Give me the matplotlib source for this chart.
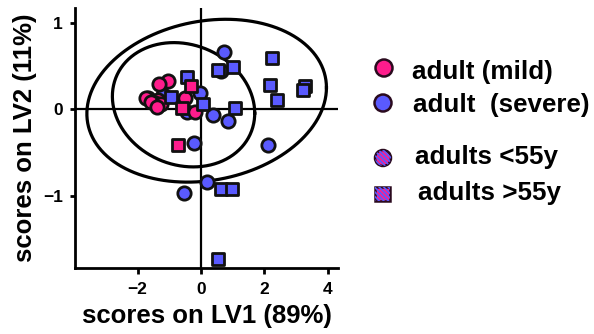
import numpy as np
import matplotlib
matplotlib.use("Agg")
import matplotlib.pyplot as plt
from matplotlib.patches import Circle, Rectangle

plt.rcParams["font.family"] = ["Liberation Sans", "DejaVu Sans"]
plt.rcParams["font.weight"] = "bold"

PINK = "#ff1c8c"
BLUE = "#5a5aff"
EDGE = "#111111"
LEG_EDGE = "#2a0a1e"

# ---- PLS-DA scores (LV1, LV2) ----
mild_young_x = [-1.05, -1.32, -1.35, -1.66, -1.45, -1.75, -1.58, -1.25, -0.50, -0.19, -1.40]
mild_young_y = [0.33, 0.29, 0.11, 0.13, 0.07, 0.13, 0.09, 0.06, 0.13, -0.03, 0.03]

mild_old_x = [-0.32, -0.59, -0.74]
mild_old_y = [0.27, 0.01, -0.41]

severe_young_x = [0.73, 0.62, -0.03, 0.39, 0.84, -0.21, 2.13, 0.18, -0.54, -0.45, -1.19]
severe_young_y = [0.67, 0.44, 0.19, -0.07, -0.13, -0.39, -0.41, -0.84, -0.97, -0.03, 0.17]

severe_old_x = [2.23, 2.18, 2.41, 3.28, 3.23, 0.55, 1.02, 1.07, 0.05, -0.45, -0.95, 0.62, 0.99, 0.53]
severe_old_y = [0.59, 0.28, 0.11, 0.27, 0.22, 0.46, 0.49, 0.02, 0.06, 0.38, 0.14, -0.92, -0.92, -1.73]

# Confidence ellipses: centre and shape factor (x = a cos t, y = c cos t + d sin t)
outer_centre = (0.18, 0.10)
outer_shape = (3.785, 0.151, 0.932)
inner_centre = (-0.55, 0.053)
inner_shape = (2.249, -0.098, 0.714)

x_ticks = [-2, 0, 2, 4]
y_ticks = [-1, 0, 1]

W, H = 594, 334
fig = plt.figure(figsize=(W / 100, H / 100), dpi=100)
ax = fig.add_axes([75 / W, 1 - 268 / H, (338 - 75) / W, (268 - 8) / H])
ax.set_xlim(-3.98, 4.33)
ax.set_ylim(-1.84, 1.175)

ax.axhline(0, color="black", lw=1.6, zorder=1)
ax.axvline(0, color="black", lw=1.6, zorder=1)

t = np.linspace(0, 2 * np.pi, 400)
for (cx, cy), (a, c, d) in [(outer_centre, outer_shape), (inner_centre, inner_shape)]:
    ax.plot(cx + a * np.cos(t), cy + c * np.cos(t) + d * np.sin(t), color="black", lw=2.3, zorder=2)

ms_c, ms_s, ew = 92, 70, 2.0
ax.scatter(severe_young_x, severe_young_y, s=ms_c, marker="o", c=BLUE, edgecolors=EDGE, linewidths=ew, zorder=3)
ax.scatter(mild_young_x, mild_young_y, s=ms_c, marker="o", c=PINK, edgecolors=EDGE, linewidths=ew, zorder=4)
ax.scatter(severe_old_x, severe_old_y, s=ms_s, marker="s", c=BLUE, edgecolors=EDGE, linewidths=ew, zorder=5)
ax.scatter(mild_old_x, mild_old_y, s=ms_s, marker="s", c=PINK, edgecolors=EDGE, linewidths=ew, zorder=6)

for side in ("top", "right"):
    ax.spines[side].set_visible(False)
for side in ("left", "bottom"):
    ax.spines[side].set_linewidth(2.0)
ax.set_xticks(x_ticks)
ax.set_xticklabels([f"{v}".replace("-", "\u2212") for v in x_ticks])
ax.set_yticks(y_ticks)
ax.set_yticklabels([f"{v}".replace("-", "\u2212") for v in y_ticks])
ax.tick_params(width=2, labelsize=12.5)
ax.tick_params(axis="x", length=4.5, pad=5.5)
ax.tick_params(axis="y", length=3.8, pad=5)
for lbl in ax.get_xticklabels() + ax.get_yticklabels():
    lbl.set_fontweight("bold")

ax.set_xlabel("scores on LV1 (89%)", fontsize=18.5, fontweight="bold", labelpad=5)
ax.set_ylabel("scores on LV2 (11%)", fontsize=18.5, fontweight="bold", labelpad=4)

# ---- legend drawn in figure pixel space ----
lax = fig.add_axes([0, 0, 1, 1])
lax.set_xlim(0, W)
lax.set_ylim(H, 0)
lax.axis("off")


def striped(patch_fill, patch_edge, cx, cy, half):
    """Pink patch with blue diagonal stripes, outlined in dark."""
    lax.add_patch(patch_fill)
    for k in np.arange(-3 * half, 3 * half, 4.6):
        ln, = lax.plot([cx - 2 * half + k, cx + 2 * half + k],
                       [cy - 2 * half, cy + 2 * half],
                       color=BLUE, lw=1.2, solid_capstyle="butt")
        ln.set_clip_path(patch_fill)
    lax.add_patch(patch_edge)


lax.add_patch(Circle((384, 68), 8.5, facecolor=PINK, edgecolor=LEG_EDGE, lw=1.8))
lax.add_patch(Circle((383, 103), 8.5, facecolor=BLUE, edgecolor=LEG_EDGE, lw=1.8))

striped(Circle((383, 158), 8, facecolor=PINK, lw=0),
        Circle((383, 158), 8, facecolor="none", edgecolor=LEG_EDGE, lw=1.8),
        383, 158, 8)
striped(Rectangle((375, 187), 15, 14, facecolor=PINK, lw=0),
        Rectangle((375, 187), 15, 14, facecolor="none", edgecolor=LEG_EDGE, lw=1.8),
        382.5, 194, 8)

leg_fs = 18.7
lax.text(412, 79, "adult (mild)", fontsize=leg_fs, fontweight="bold", va="baseline")
lax.text(413, 112, "adult  (severe)", fontsize=leg_fs, fontweight="bold", va="baseline")
lax.text(415, 164, "adults <55y", fontsize=leg_fs, fontweight="bold", va="baseline")
lax.text(418, 200, "adults >55y", fontsize=leg_fs, fontweight="bold", va="baseline")

fig.savefig("out.png", dpi=100)
